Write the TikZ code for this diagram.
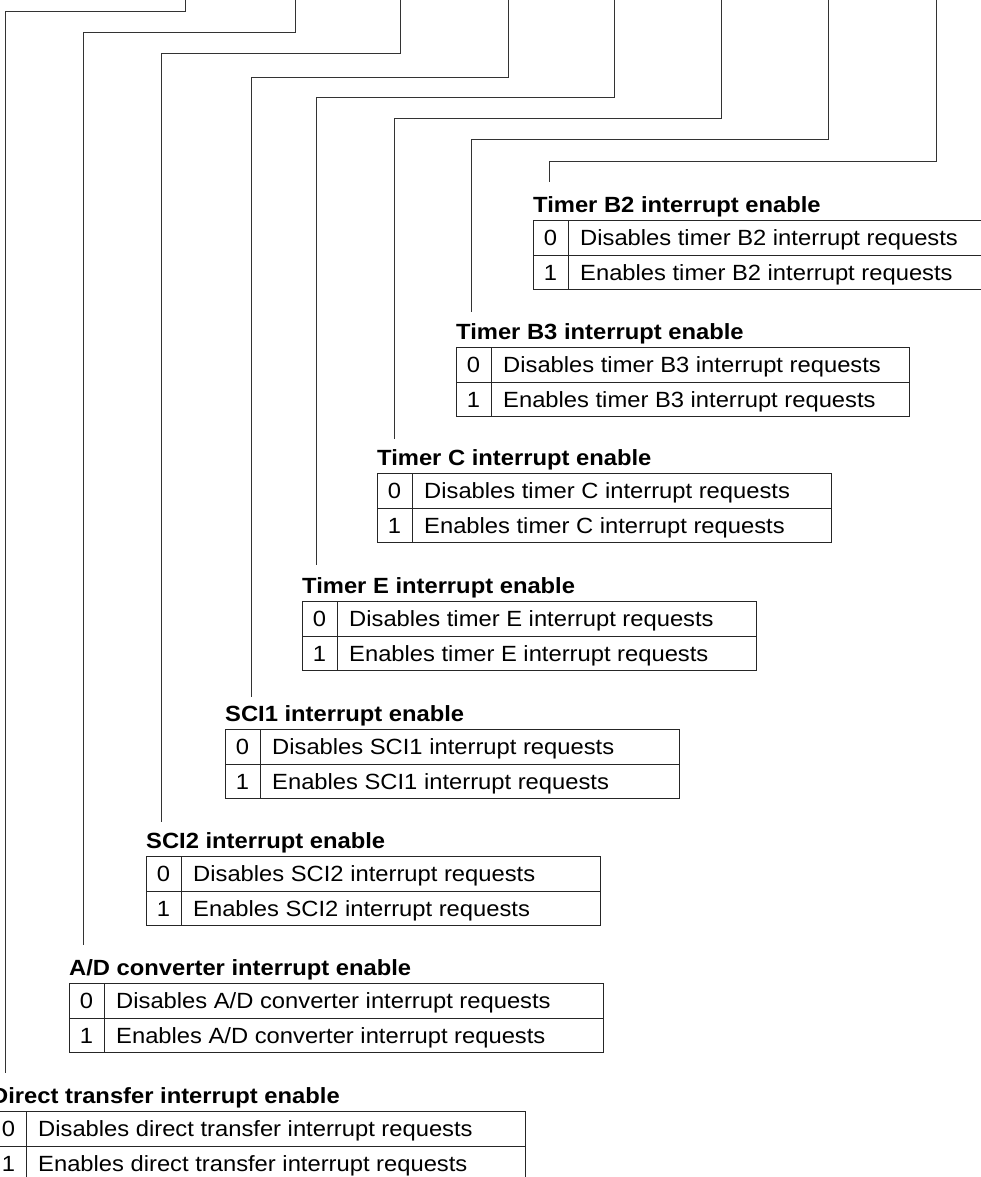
\documentclass[tikz,border=0pt]{standalone}
\usepackage{fontspec}
\setmainfont[FakeStretch=1.08]{Liberation Sans}
\usetikzlibrary{calc}
\begin{document}
\begin{tikzpicture}[x=1pt,y=-1pt,
  boxst/.style={draw=black!85, line width=0.9pt, inner sep=0pt, anchor=north west},
  rule/.style={draw=black!85, line width=0.9pt},
  wire/.style={draw=black!80, line width=0.9pt},
  ttl/.style={anchor=base west, inner sep=0pt, font=\fontsize{22}{26}\selectfont\bfseries},
  cell/.style={anchor=base west, inner sep=0pt, font=\fontsize{22}{26}\selectfont},
  num/.style={anchor=base, inner sep=0pt, font=\fontsize{22}{26}\selectfont}]
\useasboundingbox (0,0) rectangle (981,1177);

% #1 id, #2 left, #3 top, #4 right, #5 title, #6 text for 0, #7 text for 1
\newcommand\regtable[7]{%
  \node[ttl] (#1title) at (#2,#3-7.7) {#5};
  \node[boxst, minimum width={(#4-(#2))*1pt}, minimum height=69pt] (#1box) at (#2,#3) {};
  \draw[rule] (#1box.west) -- (#1box.east);
  \draw[rule] ($(#1box.north west)+(35,0)$) -- ($(#1box.south west)+(35,0)$);
  \node[num] (#1n0) at (#2+17.5,#3+25.7) {0};
  \node[cell] (#1d0) at (#2+47,#3+25.7) {#6};
  \node[num] (#1n1) at (#2+17.5,#3+60.2) {1};
  \node[cell] (#1d1) at (#2+47,#3+60.2) {#7};
}
% #1 id, #2 x at top, #3 y of horizontal, #4 x of vertical, #5 end y
\newcommand\regwire[5]{%
  \coordinate (#1s) at (#2,-2);
  \coordinate (#1k) at (#4,#3);
  \coordinate (#1e) at (#4,#5);
  \draw[wire] (#1s) |- (#1k) -- (#1e);
}

\regtable{b2}{533}{220}{986}{Timer B2 interrupt enable}{Disables timer B2 interrupt requests}{Enables timer B2 interrupt requests}
\regtable{b3}{456}{347}{909}{Timer B3 interrupt enable}{Disables timer B3 interrupt requests}{Enables timer B3 interrupt requests}
\regtable{tc}{377}{473}{831}{Timer C interrupt enable}{Disables timer C interrupt requests}{Enables timer C interrupt requests}
\regtable{te}{302}{601}{756}{Timer E interrupt enable}{Disables timer E interrupt requests}{Enables timer E interrupt requests}
\regtable{sa}{225}{729}{679}{SCI1 interrupt enable}{Disables SCI1 interrupt requests}{Enables SCI1 interrupt requests}
\regtable{sb}{146}{856}{600}{SCI2 interrupt enable}{Disables SCI2 interrupt requests}{Enables SCI2 interrupt requests}
\regtable{ad}{69}{983}{603}{A/D converter interrupt enable}{Disables A/D converter interrupt requests}{Enables A/D converter interrupt requests}
\regtable{dt}{-9}{1111}{525}{Direct transfer interrupt enable}{Disables direct transfer interrupt requests}{Enables direct transfer interrupt requests}

\regwire{w1}{185}{11}{5}{1073}
\regwire{w2}{295}{32}{83}{945}
\regwire{w3}{400}{53}{161}{822}
\regwire{w4}{508}{77}{251}{697}
\regwire{w5}{614}{97}{316}{565}
\regwire{w6}{721}{118}{394}{439}
\regwire{w7}{828}{139}{471}{312}
\regwire{w8}{936}{161}{549}{182}
\end{tikzpicture}
\end{document}
